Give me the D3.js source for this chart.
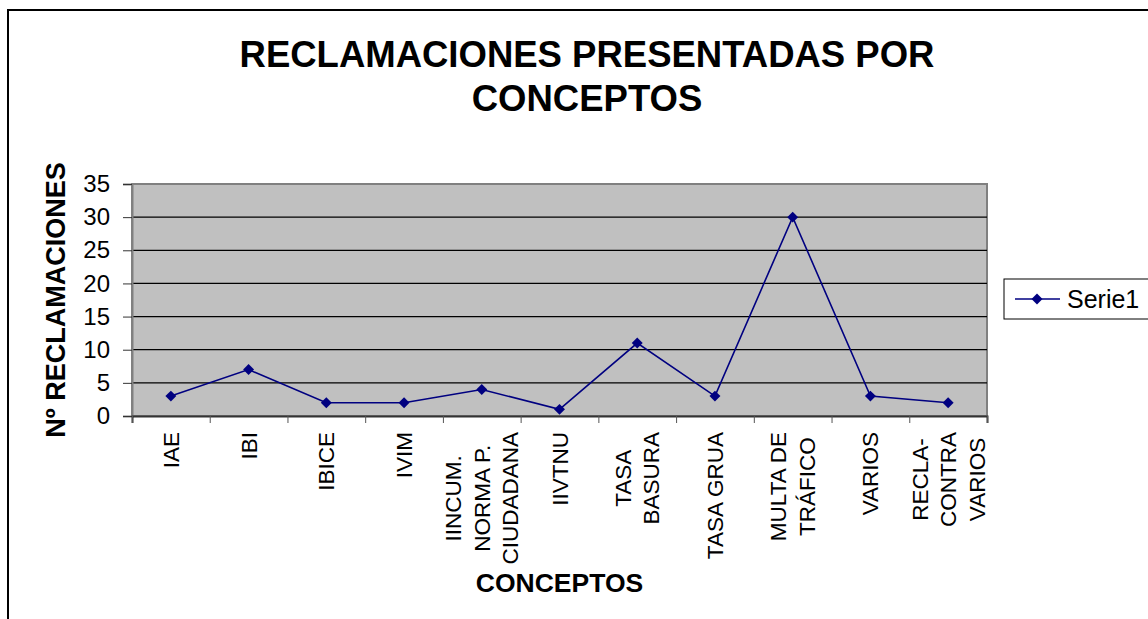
<!DOCTYPE html>
<html>
<head>
<meta charset="utf-8">
<script src="https://cdn.jsdelivr.net/npm/d3@7"></script>
<style>
  body { margin: 0; background: #fff; }
  text { font-family: "Liberation Sans", Arial, sans-serif; }
</style>
</head>
<body>
<div id="container"></div>
<script>
var svgWidth = 1148;
var svgHeight = 619;

// data
var categories = [
    ["IAE"], ["IBI"], ["IBICE"], ["IVIM"],
    ["IINCUM.", "NORMA P.", "CIUDADANA"],
    ["IIVTNU"], ["TASA", "BASURA"], ["TASA GRUA"],
    ["MULTA DE", "TRÁFICO"], ["VARIOS"],
    ["RECLA-", "CONTRA", "VARIOS"]
];
var serie1 = [3, 7, 2, 2, 4, 1, 11, 3, 30, 3, 2];
var yTicks = [0, 5, 10, 15, 20, 25, 30, 35];
var seriesName = "Serie1";

var plotLeft = 132, plotRight = 987, plotTop = 184, plotBottom = 416;

var svg = d3.select('#container').append('svg')
    .attr("width", svgWidth)
    .attr("height", svgHeight);

// chart border (runs off the right and bottom edges)
svg.append('rect')
    .attr('x', 8).attr('y', 10)
    .attr('width', svgWidth).attr('height', svgHeight)
    .style('fill', 'none')
    .style('stroke', '#000')
    .style('stroke-width', 2);

var x = d3.scaleBand()
    .domain(d3.range(categories.length))
    .range([plotLeft, plotRight])
    .padding(0);

var y = d3.scaleLinear()
    .domain([0, 35])
    .range([plotBottom, plotTop]);

// plot area
svg.append('rect')
    .attr('x', plotLeft).attr('y', plotTop)
    .attr('width', plotRight - plotLeft).attr('height', plotBottom - plotTop)
    .style('fill', '#c0c0c0')
    .style('stroke', '#808080')
    .style('stroke-width', 2);

svg.selectAll('.grid')
    .data(yTicks.filter(function (t) { return t > 0 && t < 35; }))
    .enter().append('line')
    .attr('class', 'grid')
    .attr('x1', plotLeft).attr('x2', plotRight)
    .attr('y1', function (d) { return y(d); })
    .attr('y2', function (d) { return y(d); })
    .style('stroke', '#000')
    .style('stroke-width', 1.2);

// y axis
var yAxis = d3.axisLeft(y).tickValues(yTicks).tickSize(9).tickPadding(13);
var yg = svg.append('g')
    .attr('transform', 'translate(' + plotLeft + ',0)')
    .call(yAxis);
yg.select('.domain').style('stroke', '#808080').style('stroke-width', 2);
yg.selectAll('.tick line').style('stroke', '#333');
yg.selectAll('.tick text')
    .style('font-size', '24px')
    .style('fill', '#000')
    .style('font-family', '"Liberation Sans", Arial, sans-serif');

// x axis
var xAxisScale = d3.scaleLinear().domain([0, categories.length]).range([plotLeft, plotRight]);
var xg = svg.append('g')
    .attr('transform', 'translate(0,' + plotBottom + ')')
    .call(d3.axisBottom(xAxisScale).tickValues(d3.range(categories.length + 1)).tickSize(7).tickFormat(''));
xg.select('.domain').style('stroke', '#333').style('stroke-width', 2);
xg.selectAll('.tick line').style('stroke', '#555');

// rotated, multi-line category labels
var labelTop = 432;
var lineGap = 28.5;
categories.forEach(function (lines, i) {
    var cx = x(i) + x.bandwidth() / 2;
    var g = svg.append('g');
    var texts = lines.map(function (l) {
        return g.append('text')
            .text(l)
            .style('font-size', '22.5px')
            .attr('text-anchor', 'middle');
    });
    var maxLen = d3.max(texts, function (t) { return t.node().getComputedTextLength(); });
    var cy = labelTop + maxLen / 2;
    texts.forEach(function (t, j) {
        var lx = cx + (j - (lines.length - 1) / 2) * lineGap + 8;
        t.attr('transform', 'translate(' + lx + ',' + cy + ') rotate(-90)');
    });
});

// series line
var line = d3.line()
    .x(function (d, i) { return x(i) + x.bandwidth() / 2; })
    .y(function (d) { return y(d); });

svg.append('path')
    .datum(serie1)
    .attr('d', line)
    .style('fill', 'none')
    .style('stroke', '#000080')
    .style('stroke-width', 1.6);

var diamond = d3.symbol().type(d3.symbolSquare).size(60);
svg.selectAll('.marker')
    .data(serie1)
    .enter().append('path')
    .attr('class', 'marker')
    .attr('d', diamond)
    .attr('transform', function (d, i) {
        return 'translate(' + (x(i) + x.bandwidth() / 2) + ',' + y(d) + ') rotate(45)';
    })
    .style('fill', '#000080');

// titles
svg.append('text')
    .attr('x', 587).attr('y', 67)
    .attr('text-anchor', 'middle')
    .style('font-size', '36.5px').style('font-weight', 'bold')
    .text('RECLAMACIONES PRESENTADAS POR');
svg.append('text')
    .attr('x', 587).attr('y', 111)
    .attr('text-anchor', 'middle')
    .style('font-size', '36.5px').style('font-weight', 'bold')
    .text('CONCEPTOS');

svg.append('text')
    .attr('x', (plotLeft + plotRight) / 2).attr('y', 592)
    .attr('text-anchor', 'middle')
    .style('font-size', '26.5px').style('font-weight', 'bold')
    .text('CONCEPTOS');

svg.append('text')
    .attr('transform', 'translate(65,' + ((plotTop + plotBottom) / 2) + ') rotate(-90)')
    .attr('text-anchor', 'middle')
    .style('font-size', '27px').style('font-weight', 'bold')
    .text('Nº RECLAMACIONES');

// legend
var legend = svg.append('g').attr('transform', 'translate(1004,279)');
legend.append('rect')
    .attr('width', 160).attr('height', 40)
    .style('fill', '#fff')
    .style('stroke', '#000')
    .style('stroke-width', 1);
legend.append('line')
    .attr('x1', 11).attr('x2', 56).attr('y1', 20).attr('y2', 20)
    .style('stroke', '#000080').style('stroke-width', 1.6);
legend.append('path')
    .attr('d', diamond)
    .attr('transform', 'translate(33,20) rotate(45)')
    .style('fill', '#000080');
legend.append('text')
    .attr('x', 63).attr('y', 29)
    .style('font-size', '25px')
    .text(seriesName);
</script>
</body>
</html>
